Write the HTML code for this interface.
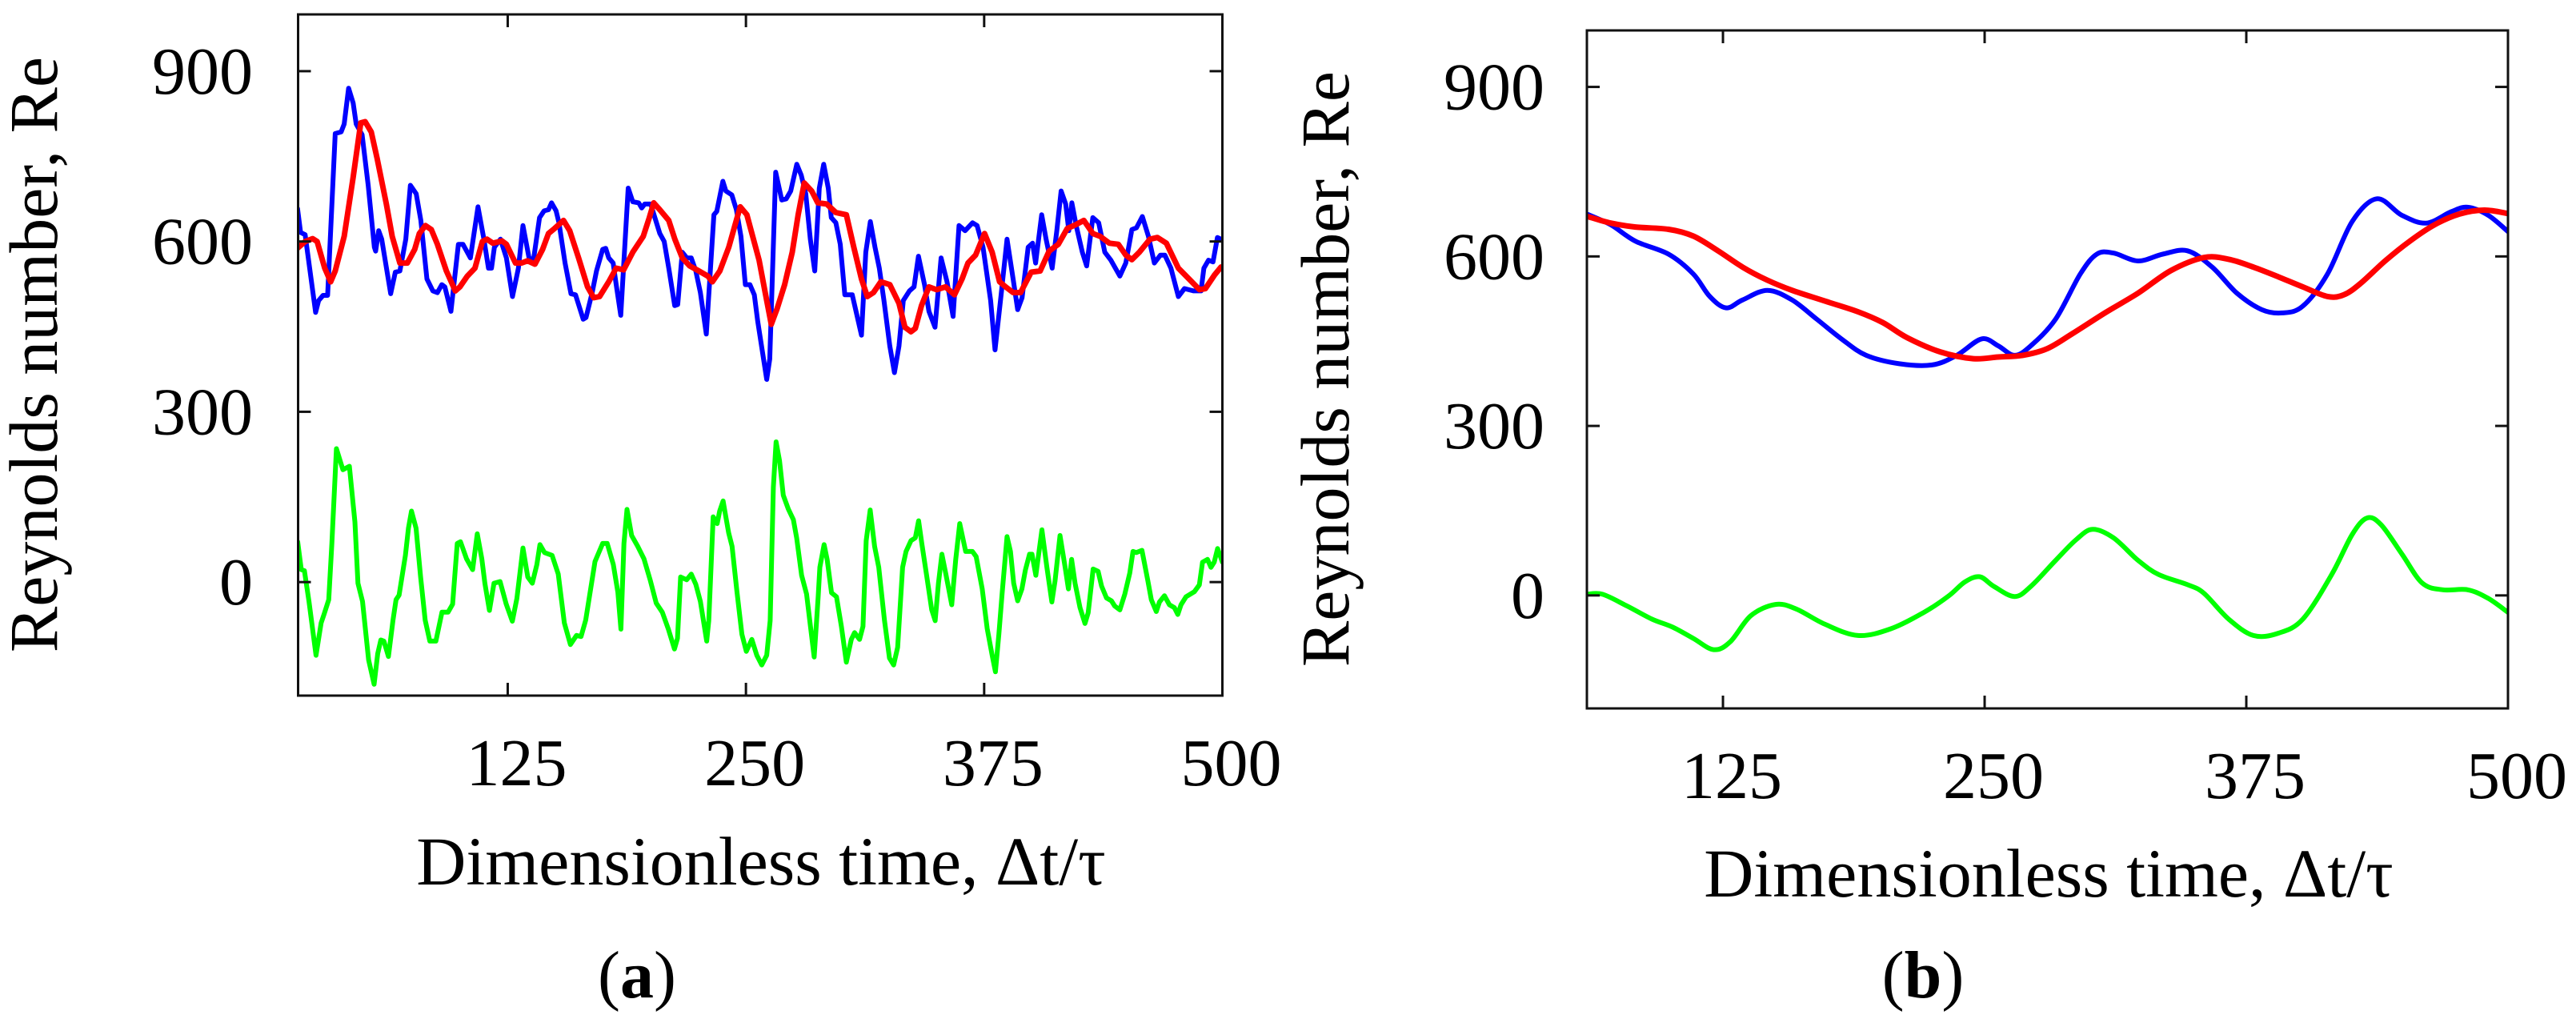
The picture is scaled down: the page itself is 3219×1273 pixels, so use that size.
<!DOCTYPE html>
<html><head><meta charset="utf-8"><style>
html,body{margin:0;padding:0;background:#fff;}
svg{display:block;}
text{font-family:"Liberation Serif",serif;fill:#000;}
</style></head><body>
<svg id="fig" width="3219" height="1273" viewBox="0 0 3219 1273"></svg>
<script>
// ---- Panel (a) data ----
const aBlueT=[14.7,16.3,18.7,24.2,25.8,28.1,30.5,34.5,37.6,39.2,41.5,43.9,45.5,48.6,51.8,55,55.7,57.3,58.9,63.6,66,68.4,71.5,73.9,77,79.4,82.6,85.7,88.1,90.4,92,95.2,99.1,101.5,105.4,109.4,112.5,114.9,116.5,118,121.2,124.3,127.5,130.6,133,136.2,138.5,141.7,144.1,146.4,148,150.4,151.9,155.1,158.2,160.6,164.6,166.1,169.3,171.6,174.8,176.4,178,180.3,181.9,184.3,188.2,190.6,193.7,195.3,196.9,200,202.4,204.8,207.1,209.5,212.6,214.2,216.6,219,221.3,223.7,226.1,229.2,233.2,234.7,237.9,239.5,242.6,245,247.4,249.7,252.1,254.4,256.2,260.9,262.5,265.6,268.8,271.1,273.5,276.7,279,281.4,283.8,286.1,288.5,290.8,293.2,294.8,297.2,299.5,301.9,305.8,310.6,312.9,315.3,317.7,320,322.4,325.5,327.9,330.3,332.6,335.8,338.2,340.5,343.7,346,349.2,352.4,355.5,358.7,361.8,365,368.9,371.3,374.4,378.4,380.7,383.9,387,390.2,392.6,394.9,398.1,400.4,402,405.2,407.5,410.7,413.1,415.4,417.8,419.4,421,423.3,426.5,428.8,432,435.1,438.3,441.5,446.2,449.3,452.5,454.9,458,461.2,464.3,467.5,469.8,473,476.9,480.1,484.8,488.8,490.3,492.7,495.1,497.4,499.3];
const aBlueV=[658,616,612,475,496,505,505,790,793,807,870,844,807,788,699,590,583,619,604,508,546,548,604,699,684,637,534,513,510,524,520,477,595,595,571,661,604,553,553,590,604,571,503,553,628,571,567,642,654,656,668,654,633,562,508,506,463,466,510,548,586,588,571,562,524,470,694,670,668,659,666,666,640,614,600,553,487,489,581,571,571,548,510,437,647,653,706,689,682,656,609,524,524,506,459,357,393,722,673,675,689,736,717,684,604,548,694,736,694,642,633,595,506,506,435,581,635,590,553,496,416,369,416,496,513,520,574,524,477,449,571,529,468,628,619,633,628,590,496,409,506,604,534,480,501,590,597,562,647,604,553,619,689,666,619,668,628,581,557,642,633,581,567,539,562,621,624,644,609,562,576,576,553,503,517,513,513,553,567,564,607,604];
const aRedT=[14,18.7,22.6,25,29,32.1,34.5,39.2,43.9,47.9,50.2,53.4,56.5,61.3,64.4,68.4,72.3,76.2,78.6,81.8,84.9,88.1,92.8,97.5,99.9,103.8,107.8,111.7,114.1,117.2,122,124.3,129.1,132.2,135.4,139.3,143.3,146.4,149.6,154.3,157.5,162.2,166.9,170.1,173.2,178,181.9,185.8,190.6,196.1,199.3,201.6,204.8,209.5,212.7,216.6,220.5,225.3,230,232.4,236.3,241,244.2,247,250.5,256.9,260.1,263.3,266.4,270.3,274.3,277.4,280.6,284.5,287.7,292.4,297.2,302.7,306.6,310.6,313.7,316.9,320.8,325.5,330.3,333.4,336.6,338.9,342.1,346,350,354.7,359.4,363.4,366.5,370.5,375.2,379.2,383.1,386.3,390.2,394.1,399.7,404.4,409.1,413.9,418.6,423.3,427.3,432,435.9,440.7,445.4,449.3,452.5,456.4,462,465.9,470.6,476.9,482.5,488,491.1,495.9,499.3];
const aRedV=[586,600,605,600,553,529,548,609,713,809,811,793,746,666,609,562,562,586,614,628,621,595,548,513,520,539,553,600,604,597,601,595,562,562,566,560,586,614,623,637,619,571,520,501,503,529,553,550,581,609,642,668,656,637,604,571,557,548,539,529,548,590,628,661,647,567,510,454,482,524,581,647,703,689,668,666,651,647,590,534,503,510,529,524,491,449,441,447,487,520,515,520,506,534,562,576,614,581,529,520,510,510,546,548,583,595,623,630,637,614,609,597,595,576,568,581,604,607,597,553,534,515,517,541,555];
const aGreenT=[14.8,16.7,18.3,20.7,24.4,27.1,28.7,31.1,32.7,35.1,38.5,41.9,44.8,46.4,48.8,52,54.9,56.8,58.4,60,62.4,64.8,66.4,68,71.3,72.9,74.5,76.9,79.3,81.7,84.1,87.3,90.5,93.7,96.1,98.5,100.2,103.4,106.6,109,111.4,113,115.4,117.8,121,124.2,127.4,129.8,133,135.5,137.9,140.3,141.9,144.3,148.3,151.5,154.7,157.9,161.1,163.5,165.9,170.8,174.8,177.2,180.4,182.8,184.4,186,187.6,190,193.2,196.5,199.7,202.9,206.1,209.3,212.5,214.1,215.7,218.9,221.3,223.7,226.1,229.4,230.5,232.8,234.9,236.2,238,239.2,240.9,242.7,245.3,247.9,250.2,253.1,255.7,258.3,260.9,262.7,264.4,265.8,267.6,269.6,272.2,274.9,276.6,279.2,281.8,283.5,285.8,287.9,288.8,291,292.6,294.9,297.5,300.1,302.7,305.3,307,309.6,311.4,313.1,315.2,317.5,319.7,322.7,325.3,327.5,329.6,332.2,334,336.6,338.9,340.6,342.3,344.8,347.5,349.3,351,352.8,354.8,358,360.1,362.2,365.3,368.8,370.8,374,376.6,379.2,380.9,382.7,384.4,387,388.8,390.5,392.6,394.8,396.6,398.8,400.1,402.1,405.3,407.9,410.5,412.2,414.8,417.5,419.2,420.9,422.7,425.3,427.9,429.6,432.2,434.8,436.6,439.2,441.8,443.5,446.2,448.8,451.4,453.1,454.8,457.8,460.9,462.7,465.3,467,469.6,472.2,474.8,476.6,478.3,480.9,485.3,487.9,489.6,492.2,494,495.7,497.5,500];
const aGreenV=[71,22,20,-34,-129,-72,-56,-31,68,235,198,204,106,-2,-34,-137,-180,-126,-102,-104,-131,-67,-31,-23,47,95,125,95,9,-67,-104,-104,-53,-53,-39,68,71,41,22,85,41,-2,-50,-2,1,-39,-69,-29,60,9,-2,31,66,52,47,14,-72,-110,-94,-96,-67,36,68,68,31,-18,-83,68,128,82,63,41,4,-37,-53,-83,-118,-99,9,4,14,-4,-34,-104,-68,115,103,125,143,120,87,63,-17,-92,-122,-101,-129,-146,-129,-68,167,247,214,153,129,110,78,12,-21,-68,-132,-26,26,66,40,-19,-26,-78,-141,-101,-89,-101,-78,73,127,63,26,-68,-134,-146,-115,26,54,73,78,108,68,12,-49,-68,-2,49,16,-40,40,103,54,54,45,-12,-82,-129,-158,-92,-21,80,54,-2,-33,-12,21,49,49,12,92,26,-35,2,82,26,-12,40,-2,-45,-73,-54,23,19,-7,-28,-33,-42,-49,-21,16,54,52,56,2,-31,-52,-35,-24,-40,-45,-57,-40,-26,-17,-5,35,40,26,35,59,35];
// ---- Panel (b) data ----
const bBlueT=[60,71.4,83.2,99,110.8,118.7,126.5,134.4,146.2,158,169.8,181.6,193.4,209.2,224.9,236.7,248.5,256.4,264.3,272.1,283.9,295.7,303.6,311.5,323.3,335.1,346.9,358.7,370.5,382.3,392.1,402,413.8,425.6,437.4,449.2,461,472.8,480.7,490.5,500];
const bBlueV=[675,656,627,604,569,529,509,523,540,523,489,454,425,410,408,425,454,442,425,442,489,569,604,606,592,604,610,581,535,506,500,512,569,662,702,673,659,679,687,673,644];
const bRedT=[60,71.4,83.2,99,110.8,122.6,134.4,146.2,158,173.7,189.5,201.3,213.1,228.8,244.6,256.4,268.2,280,291.8,307.5,323.3,339,354.8,366.6,378.4,390.2,402,413.8,421.6,429.5,441.3,453.1,464.9,476.8,488.6,500];
const bRedV=[671,659,652,648,636,610,581,558,540,521,502,483,456,431,419,422,425,437,463,500,535,575,598,595,581,564,546,529,532,552,592,627,656,675,682,676];
const bGreenT=[60,67.5,79.3,91.1,100.9,110.8,120.6,128.5,138.3,150.1,160,173.7,189.5,205.2,221,232.8,240.6,247.7,254.4,264.3,272.1,283.9,293.8,301.6,311.5,323.3,333.1,346.9,354.7,366.6,378.4,390.2,402,415.8,425.6,432.7,439.4,449.2,459,468.9,480.7,490.5,500];
const bGreenV=[2,2,-19,-42,-56,-76,-96,-82,-36,-16,-24,-51,-71,-59,-30,-1,24,33,16,-2,16,62,99,117,102,62,37,19,4,-42,-71,-67,-42,37,108,137,125,74,22,10,10,-5,-30];
const xTicks=[125,250,375,500];
const yTicks=[0,300,600,900];

const NS="http://www.w3.org/2000/svg";
const svg=document.getElementById('fig');
function mk(tag,attrs,parent){const e=document.createElementNS(NS,tag);for(const k in attrs)e.setAttribute(k,attrs[k]);(parent||svg).appendChild(e);return e;}

function panel(p){
  const g=mk('g',{});
  
  
  const sx=v=>p.L+(v-p.x0)/(p.x1-p.x0)*(p.R-p.L);
  const sy=v=>p.B-(v-p.y0)/(p.y1-p.y0)*(p.B-p.T);
  const clipId='clip-'+p.name;
  const cp=mk('clipPath',{id:clipId},g);
  mk('rect',{x:p.L,y:p.T,width:p.R-p.L,height:p.B-p.T},cp);
  p.series.forEach(s=>{
    const pts=s.t.map((t,i)=>[sx(t),sy(s.v[i])]);
    let d;
    if(p.smooth){
      d='M'+pts[0][0].toFixed(1)+','+pts[0][1].toFixed(1);
      for(let i=0;i<pts.length-1;i++){
        const p0=pts[Math.max(0,i-1)],p1=pts[i],p2=pts[i+1],p3=pts[Math.min(pts.length-1,i+2)];
        const c1=[p1[0]+(p2[0]-p0[0])/6,p1[1]+(p2[1]-p0[1])/6];
        const c2=[p2[0]-(p3[0]-p1[0])/6,p2[1]-(p3[1]-p1[1])/6];
        d+=' C'+c1[0].toFixed(1)+','+c1[1].toFixed(1)+' '+c2[0].toFixed(1)+','+c2[1].toFixed(1)+' '+p2[0].toFixed(1)+','+p2[1].toFixed(1);
      }
    } else {
      d='M'+pts.map(q=>q[0].toFixed(1)+','+q[1].toFixed(1)).join(' L');
    }
    const path=mk('path',{d:d,fill:'none',stroke:s.color,'stroke-width':s.w,'stroke-linejoin':'round','stroke-linecap':'round','clip-path':'url(#'+clipId+')'},g);
    
    
  });
  const fr=mk('rect',{x:p.L,y:p.T,width:p.R-p.L,height:p.B-p.T,fill:'none',stroke:'#111','stroke-width':3},g);
  
  
  xTicks.forEach(t=>{
    const x=sx(t);
    mk('line',{x1:x,y1:p.B,x2:x,y2:p.B-16,stroke:'#111','stroke-width':3},g);
    mk('line',{x1:x,y1:p.T,x2:x,y2:p.T+16,stroke:'#111','stroke-width':3},g);
    const tx=mk('text',{x:x+11,y:p.xLabY,'font-size':84,'text-anchor':'middle'},g);
    tx.textContent=t;
    
    
  });
  yTicks.forEach(t=>{
    const y=sy(t);
    mk('line',{x1:p.L,y1:y,x2:p.L+16,y2:y,stroke:'#111','stroke-width':3},g);
    mk('line',{x1:p.R,y1:y,x2:p.R-16,y2:y,stroke:'#111','stroke-width':3},g);
    const tx=mk('text',{x:p.yLabX,y:y+28,'font-size':84,'text-anchor':'end'},g);
    tx.textContent=t;
    
    
  });
  const yt=mk('text',{x:0,y:0,'font-size':86,'text-anchor':'middle',transform:'translate('+(p.ytX+28)+','+p.ytY+') rotate(-90)'},g);
  yt.textContent='Reynolds number, Re';
  
  
  const xt=mk('text',{x:p.xtX,y:p.xtY,'font-size':86,'text-anchor':'middle'},g);
  xt.textContent='Dimensionless time, \u0394t/\u03c4';
  
  
  const cap=mk('text',{x:p.capX,y:1246,'font-size':84,'text-anchor':'middle'},g);
  cap.innerHTML='(<tspan font-weight="bold">'+p.cap+'</tspan>)';
  
  
}

panel({name:'panel-a',L:372.5,R:1527.5,T:18,B:869,x0:15,x1:500,y0:-200,y1:1000,smooth:false,
  xLabY:981,yLabX:316,ytX:43,ytY:443,xtX:951,xtY:1105,capX:796,cap:'a',
  series:[{name:'blue-series-a',t:aBlueT,v:aBlueV,color:'#0000ff',w:6},
          {name:'red-series-a',t:aRedT,v:aRedV,color:'#ff0000',w:7},
          {name:'green-series-a',t:aGreenT,v:aGreenV,color:'#00ff00',w:6}]});
panel({name:'panel-b',L:1983,R:3134,T:38,B:885,x0:60,x1:500,y0:-200,y1:1000,smooth:true,
  xLabY:997,yLabX:1930,ytX:1657,ytY:461,xtX:2560,xtY:1120,capX:2403,cap:'b',
  series:[{name:'blue-series-b',t:bBlueT,v:bBlueV,color:'#0000ff',w:6},
          {name:'red-series-b',t:bRedT,v:bRedV,color:'#ff0000',w:7},
          {name:'green-series-b',t:bGreenT,v:bGreenV,color:'#00ff00',w:6}]});
</script>
</body></html>
